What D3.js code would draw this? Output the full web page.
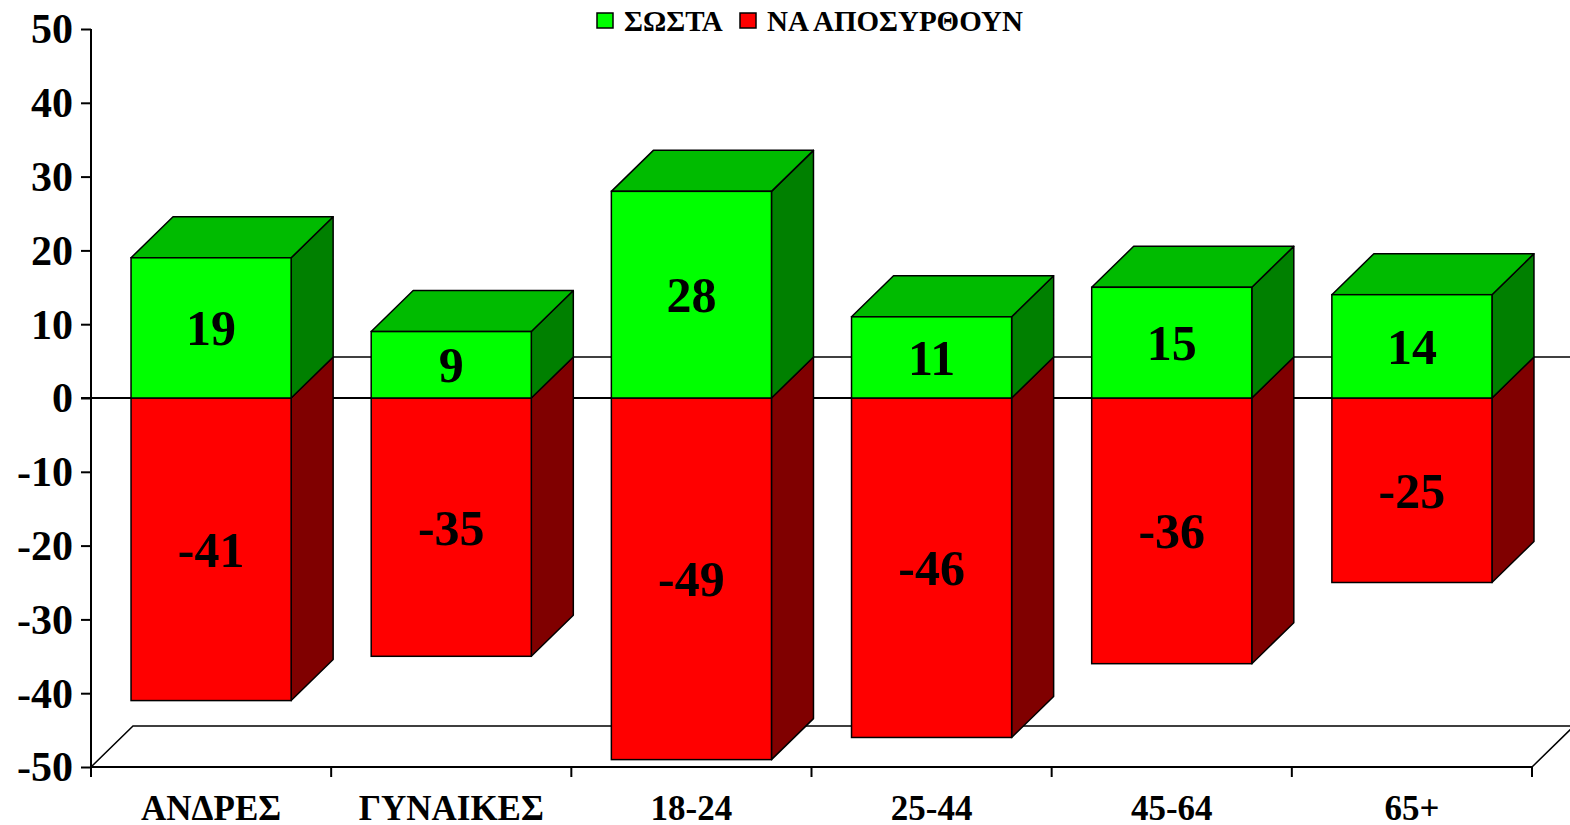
<!DOCTYPE html>
<html>
<head>
<meta charset="utf-8">
<script src="https://cdn.jsdelivr.net/npm/d3@7"></script>
<style>
body { margin: 0; background: #fff; }
text { font-family: "Liberation Serif", "Times New Roman", serif; font-weight: bold; }
</style>
</head>
<body>
<script>
// data
const categories = ['ΑΝΔΡΕΣ', 'ΓΥΝΑΙΚΕΣ', '18-24', '25-44', '45-64', '65+']
const sosta = [19, 9, 28, 11, 15, 14]
const naAposyrthoun = [-41, -35, -49, -46, -36, -25]
const yTicks = [-50, -40, -30, -20, -10, 0, 10, 20, 30, 40, 50]
const seriesNames = ['ΣΩΣΤΑ', 'ΝΑ ΑΠΟΣΥΡΘΟΥΝ']

const svgw = 1570
const svgh = 825
const padL = 91
const padR = 1532
const padT = 29
const padB = 767
const dx = 42   // depth offset
const dy = 41

const svg = d3.select('body').append('svg').attr('width', svgw).attr('height', svgh)

const xScale = d3.scaleBand()
	.domain(categories)
	.range([padL, padR])
	.paddingInner(1 / 3)
	.paddingOuter(1 / 6)

const yScale = d3.scaleLinear()
	.domain([-50, 50])
	.range([padB, padT])

const y0 = yScale(0)

// floor
svg.append('path')
	.attr('d', `M${padL},${padB} L${padL + dx},${padB - dy} L${padR + dx},${padB - dy} L${padR},${padB}`)
	.attr('fill', 'none')
	.attr('stroke', '#000')
	.attr('stroke-width', 1.5)

// back zero line
svg.append('line')
	.attr('x1', padL + dx).attr('x2', padR + dx)
	.attr('y1', y0 - dy).attr('y2', y0 - dy)
	.attr('stroke', '#000').attr('stroke-width', 1.5)

// front zero line with ticks
svg.append('line')
	.attr('x1', padL - 10).attr('x2', padR)
	.attr('y1', y0).attr('y2', y0)
	.attr('stroke', '#000').attr('stroke-width', 2)

const bounds = categories.map(c => xScale(c) - xScale.step() * xScale.paddingInner() / 2).concat([padR])
svg.append('g').selectAll('line')
	.data(bounds.slice(1))
	.enter().append('line')
	.attr('x1', d => d).attr('x2', d => d)
	.attr('y1', y0).attr('y2', y0 + 10)
	.attr('stroke', '#000').attr('stroke-width', 2)

const poly = pts => 'M' + pts.map(p => p.join(',')).join('L') + 'Z'

function drawBar(g, x, v, face, topc, side) {
	const w = xScale.bandwidth()
	const yv = yScale(v)
	const y1 = Math.min(yv, y0), y2 = Math.max(yv, y0)
	// side
	g.append('path')
		.attr('d', poly([[x + w, y1], [x + w + dx, y1 - dy], [x + w + dx, y2 - dy], [x + w, y2]]))
		.attr('fill', side).attr('stroke', '#000').attr('stroke-width', 1.5).attr('stroke-linejoin', 'round')
	// top
	if (v > 0) {
		g.append('path')
			.attr('d', poly([[x, y1], [x + dx, y1 - dy], [x + w + dx, y1 - dy], [x + w, y1]]))
			.attr('fill', topc).attr('stroke', '#000').attr('stroke-width', 1.5).attr('stroke-linejoin', 'round')
	}
	// front
	g.append('rect')
		.attr('x', x).attr('y', y1)
		.attr('width', w).attr('height', y2 - y1)
		.attr('fill', face).attr('stroke', '#000').attr('stroke-width', 1.5)
	g.append('text')
		.attr('x', x + w / 2)
		.attr('y', (y1 + y2) / 2)
		.attr('text-anchor', 'middle')
		.attr('dy', '0.35em')
		.attr('font-size', 50)
		.text(v)
}

categories.forEach((c, i) => {
	const g = svg.append('g')
	const x = xScale(c)
	drawBar(g, x, naAposyrthoun[i], '#ff0000', '#c00000', '#800000')
	drawBar(g, x, sosta[i], '#00ff00', '#00bb00', '#008000')
})

// y axis
const yAxis = d3.axisLeft(yScale).tickValues(yTicks).tickSize(10).tickPadding(8).tickFormat(d => String(d))
const ya = svg.append('g')
	.attr('transform', `translate(${padL},0)`)
	.call(yAxis)
ya.select('.domain').attr('stroke-width', 2).attr('d', `M0,${padT}V${padB}`)
ya.selectAll('.tick line').attr('stroke-width', 2)
ya.selectAll('.tick text')
	.attr('font-size', 42)
	.attr('font-family', '"Liberation Serif", serif')
	.attr('font-weight', 'bold')
	.attr('fill', '#000')
	.attr('dy', '0.33em')

// x axis (bottom)
const xAxis = d3.axisBottom(xScale).tickSize(0).tickPadding(28)
const xa = svg.append('g')
	.attr('transform', `translate(0,${padB})`)
	.call(xAxis)
xa.select('.domain').attr('stroke-width', 2).attr('d', `M${padL},0H${padR}`)
xa.selectAll('.tick text')
	.attr('font-size', 35)
	.attr('font-family', '"Liberation Serif", serif')
	.attr('font-weight', 'bold')
	.attr('fill', '#000')
	.attr('dy', '0.71em')
svg.append('g').selectAll('line')
	.data(bounds)
	.enter().append('line')
	.attr('x1', d => d).attr('x2', d => d)
	.attr('y1', padB).attr('y2', padB + 10)
	.attr('stroke', '#000').attr('stroke-width', 2)

// legend
const legendColors = ['#00ff00', '#ff0000']
const legendX = [597, 740]
const lg = svg.append('g')
seriesNames.forEach((n, i) => {
	lg.append('rect')
		.attr('x', legendX[i]).attr('y', 13)
		.attr('width', 16).attr('height', 15)
		.attr('fill', legendColors[i]).attr('stroke', '#000').attr('stroke-width', 1.5)
	lg.append('text')
		.attr('x', legendX[i] + 27).attr('y', 31)
		.attr('font-size', 29)
		.text(n)
})
</script>
</body>
</html>
